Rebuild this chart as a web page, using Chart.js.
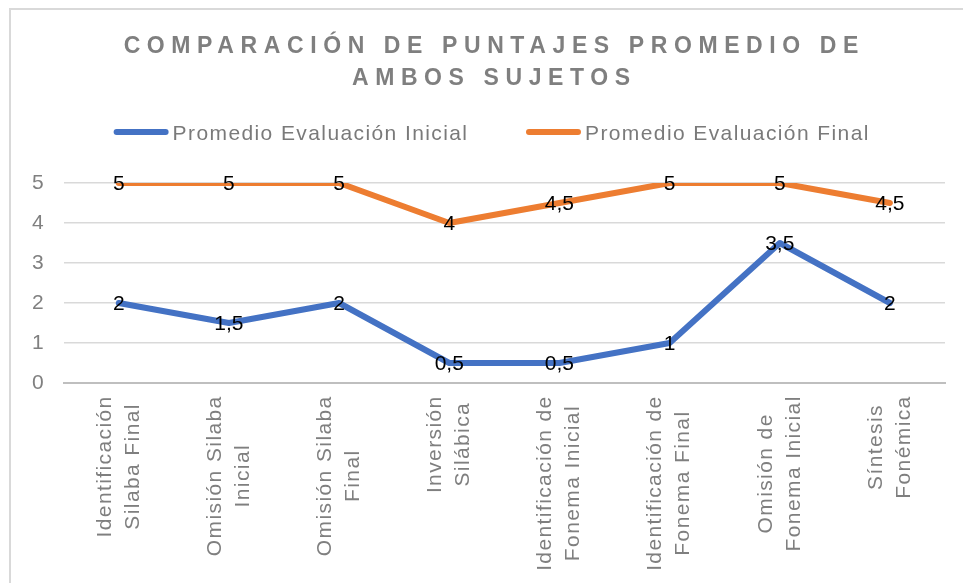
<!DOCTYPE html>
<html>
<head>
<meta charset="utf-8">
<script src="https://cdn.jsdelivr.net/npm/chart.js@4/dist/chart.umd.min.js"></script>
<style>
  html, body { margin: 0; padding: 0; background: #fff; overflow: hidden; }
  #frame { position: absolute; left: 9px; top: 8px; width: 1000px; height: 1000px; border: 2px solid #d9d9d9; }
  #wrap { position: absolute; left: 0; top: 0; width: 963px; height: 583px; }
</style>
</head>
<body>
<div id="frame"></div>
<div id="wrap"><canvas id="line-chart" width="963" height="583"></canvas></div>
<script>
// datos del grafico
let titulo = ['COMPARACIÓN DE PUNTAJES PROMEDIO DE', 'AMBOS SUJETOS'];
let categorias = [
  ['Identificación', 'Silaba Final'],
  ['Omisión Silaba', 'Inicial'],
  ['Omisión Silaba', 'Final'],
  ['Inversión', 'Silábica'],
  ['Identificación de', 'Fonema Inicial'],
  ['Identificación de', 'Fonema Final'],
  ['Omisión de', 'Fonema Inicial'],
  ['Síntesis', 'Fonémica']
];
let serie_nombres = ['Promedio Evaluación Inicial', 'Promedio Evaluación Final'];
let inicial = [2, 1.5, 2, 0.5, 0.5, 1, 3.5, 2];
let final = [5, 5, 5, 4, 4.5, 5, 5, 4.5];
let y_ticks = [0, 1, 2, 3, 4, 5];

let color_list = ['#4472C4', '#ED7D31'];
let fuente = "'Liberation Sans', Arial, sans-serif";
let centro_x = 491;

// titulo y leyenda dibujados a mano (por el espaciado de letras)
const cabecera = {
  id: 'cabecera',
  afterDraw(chart) {
    const ctx = chart.ctx;
    ctx.save();
    ctx.fillStyle = '#7f7f7f';
    ctx.font = 'bold 23px ' + fuente;
    ctx.letterSpacing = '6.6px';
    ctx.textAlign = 'center';
    ctx.textBaseline = 'alphabetic';
    ctx.fillText(titulo[0], centro_x + 3.3, 53);
    ctx.fillText(titulo[1], centro_x + 3.3, 85);

    // leyenda
    ctx.font = '21px ' + fuente;
    ctx.letterSpacing = '1.4px';
    ctx.textAlign = 'left';
    let anchos = serie_nombres.map(t => ctx.measureText(t).width - 1.4);
    let total = 0;
    anchos.forEach((w, i) => { total += 55 + 4 + w + (i < anchos.length - 1 ? 59 : 0); });
    let x = centro_x - total / 2;
    chart.data.datasets.forEach((ds, i) => {
      ctx.strokeStyle = ds.borderColor;
      ctx.lineWidth = 6;
      ctx.lineCap = 'round';
      ctx.beginPath();
      ctx.moveTo(x + 3, 132);
      ctx.lineTo(x + 52, 132);
      ctx.stroke();
      ctx.fillStyle = '#7a7a7a';
      ctx.fillText(ds.label, x + 59, 140);
      x += 55 + 4 + anchos[i] + 59;
    });
    ctx.restore();
  }
};

// etiquetas del eje x, giradas y centradas entre lineas
const etiquetas_x = {
  id: 'etiquetas_x',
  afterDraw(chart) {
    const ctx = chart.ctx;
    const xs = chart.scales.x;
    const base = chart.chartArea.bottom;
    ctx.save();
    ctx.font = '21px ' + fuente;
    ctx.letterSpacing = '1.4px';
    ctx.fillStyle = '#7f7f7f';
    ctx.textAlign = 'center';
    ctx.textBaseline = 'middle';
    categorias.forEach((lineas, i) => {
      let px = xs.getPixelForValue(i);
      let maxw = Math.max(...lineas.map(t => ctx.measureText(t).width));
      ctx.save();
      ctx.translate(px, base);
      ctx.rotate(-Math.PI / 2);
      lineas.forEach((t, j) => {
        let dy = (j - (lineas.length - 1) / 2) * 28;
        ctx.fillText(t, -(13 + maxw / 2) + 0.7, dy);
      });
      ctx.restore();
    });
    ctx.restore();
  }
};

// valores sobre cada punto
const valores = {
  id: 'valores',
  afterDatasetsDraw(chart) {
    const ctx = chart.ctx;
    ctx.save();
    ctx.font = '21px ' + fuente;
    ctx.letterSpacing = '0px';
    ctx.fillStyle = '#000';
    ctx.textAlign = 'center';
    ctx.textBaseline = 'middle';
    chart.data.datasets.forEach((ds, i) => {
      chart.getDatasetMeta(i).data.forEach((p, j) => {
        ctx.fillText(String(ds.data[j]).replace('.', ','), p.x, p.y + 1);
      });
    });
    ctx.restore();
  }
};

let my_datasets = [inicial, final].map((d, i) => ({
  label: serie_nombres[i],
  data: d,
  borderColor: color_list[i],
  backgroundColor: color_list[i],
  borderWidth: 6,
  borderCapStyle: 'round',
  borderJoinStyle: 'round',
  pointRadius: 0,
  tension: 0
}));

let myChart = new Chart(document.getElementById('line-chart').getContext('2d'), {
  type: 'line',
  data: {
    labels: categorias,
    datasets: my_datasets
  },
  options: {
    responsive: false,
    animation: false,
    layout: { padding: { top: 183, left: 12, right: 18, bottom: 192 } },
    plugins: {
      legend: { display: false },
      title: { display: false },
      tooltip: { enabled: false }
    },
    scales: {
      x: {
        offset: true,
        grid: { display: false },
        ticks: { display: false },
        border: { display: true, color: '#bfbfbf', width: 2 }
      },
      y: {
        min: 0,
        max: 5,
        afterBuildTicks: (axis) => { axis.ticks = y_ticks.map(v => ({ value: v })); },
        ticks: { color: '#808080', font: { family: fuente, size: 21 }, padding: 20 },
        grid: { color: '#d9d9d9', lineWidth: 1.5, drawTicks: false },
        border: { display: false }
      }
    }
  },
  plugins: [valores, etiquetas_x, cabecera]
});
</script>
</body>
</html>
